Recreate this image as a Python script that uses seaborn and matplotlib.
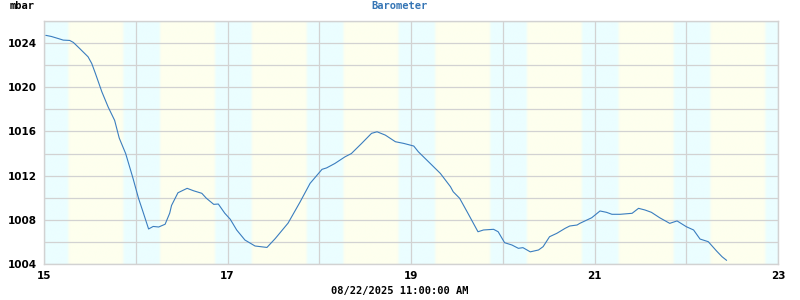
import numpy as np
import pandas as pd
import matplotlib
matplotlib.use("Agg")
import matplotlib.pyplot as plt
import seaborn as sns

# ---- data (day of month, pressure in mbar) ----
days = [15.02, 15.08, 15.16, 15.21, 15.28, 15.32, 15.39, 15.48, 15.52, 15.56,
        15.63, 15.70, 15.77, 15.82, 15.89, 15.97, 16.03, 16.08, 16.14, 16.19,
        16.25, 16.32, 16.37, 16.39, 16.46, 16.56, 16.63, 16.72, 16.77, 16.85,
        16.90, 16.97, 17.03, 17.10, 17.19, 17.30, 17.43, 17.52, 17.66, 17.79,
        17.90, 18.03, 18.08, 18.17, 18.28, 18.35, 18.46, 18.57, 18.63, 18.72,
        18.83, 18.92, 19.03, 19.08, 19.21, 19.32, 19.43, 19.46, 19.53, 19.62,
        19.73, 19.79, 19.90, 19.95, 20.02, 20.10, 20.17, 20.22, 20.30, 20.39,
        20.44, 20.51, 20.59, 20.68, 20.73, 20.81, 20.84, 20.97, 21.06, 21.13,
        21.19, 21.28, 21.41, 21.48, 21.55, 21.62, 21.71, 21.82, 21.90, 22.00,
        22.08, 22.15, 22.24, 22.33, 22.39, 22.44]
pressure = [1024.70, 1024.60, 1024.40, 1024.27, 1024.24, 1024.06, 1023.50, 1022.76, 1022.16, 1021.26,
            1019.60, 1018.20, 1017.00, 1015.40, 1014.00, 1011.76, 1009.95, 1008.70, 1007.17, 1007.40,
            1007.35, 1007.60, 1008.60, 1009.30, 1010.45, 1010.85, 1010.63, 1010.40, 1009.95, 1009.40,
            1009.43, 1008.60, 1008.05, 1007.08, 1006.17, 1005.63, 1005.50, 1006.30, 1007.70, 1009.60,
            1011.30, 1012.57, 1012.70, 1013.10, 1013.70, 1014.00, 1014.90, 1015.83, 1015.97, 1015.67,
            1015.07, 1014.92, 1014.68, 1014.16, 1013.10, 1012.20, 1011.00, 1010.54, 1009.95, 1008.60,
            1006.92, 1007.08, 1007.14, 1006.92, 1005.93, 1005.72, 1005.42, 1005.48, 1005.10, 1005.27,
            1005.57, 1006.47, 1006.78, 1007.23, 1007.44, 1007.53, 1007.68, 1008.19, 1008.80, 1008.68,
            1008.50, 1008.50, 1008.59, 1009.04, 1008.89, 1008.68, 1008.19, 1007.68, 1007.90, 1007.38,
            1007.08, 1006.26, 1006.02, 1005.18, 1004.66, 1004.33]

x_ticks = [15, 16, 17, 18, 19, 20, 21, 22, 23]
x_labels = ["15", "", "17", "", "19", "", "21", "", "23"]
y_ticks = [1004, 1006, 1008, 1010, 1012, 1014, 1016, 1018, 1020, 1022, 1024, 1026]
y_labels = ["1004", "", "1008", "", "1012", "", "1016", "", "1020", "", "1024", ""]

title = "Barometer"
unit = "mbar"
stamp = "08/22/2025 11:00:00 AM"

# day/night shading (fraction of day)
sunset_frac = 0.864
sunrise_frac = 0.264
ramp = 0.03
night_color = np.array([235, 254, 255]) / 255.0
day_color = np.array([254, 255, 238]) / 255.0

df = pd.DataFrame({"day": days, "pressure": pressure})

sns.set_style("white")
plt.rcParams["font.family"] = ["DejaVu Sans"]

fig = plt.figure(figsize=(8, 3), dpi=100)
ax = fig.add_axes([44 / 800, 36 / 300, (778 - 44) / 800, (264 - 21) / 300])

# background gradient
xs = np.linspace(15, 23, 3000)
frac = xs % 1.0
night = np.zeros_like(xs)
night = np.maximum(night, np.clip((frac - sunset_frac) / ramp + 0.5, 0, 1))
night = np.maximum(night, np.clip((sunrise_frac - frac) / ramp + 0.5, 0, 1))
cols = night[:, None] * night_color + (1 - night[:, None]) * day_color
img = cols[None, :, :]
ax.imshow(img, extent=[15, 23, 1004, 1026], aspect="auto", zorder=0,
          interpolation="bilinear")

sns.lineplot(data=df, x="day", y="pressure", ax=ax, color="#3a7dbf",
             linewidth=0.8, zorder=3)

ax.set_xlim(15, 23)
ax.set_ylim(1004, 1026)
ax.set_xticks(x_ticks)
ax.set_xticklabels(x_labels)
ax.set_yticks(y_ticks)
ax.set_yticklabels(y_labels)
ax.grid(True, color="#d2d2d2", linewidth=0.9)
ax.set_axisbelow(True)
for gl in ax.get_xgridlines() + ax.get_ygridlines():
    gl.set_zorder(1)
for s in ax.spines.values():
    s.set_color("#d2d2d2")
    s.set_linewidth(1.0)
ax.tick_params(length=0, pad=5, labelsize=7.5, labelcolor="black")
for lab in ax.get_xticklabels() + ax.get_yticklabels():
    lab.set_fontweight("bold")
ax.set_xlabel("")
ax.set_ylabel("")

fig.text(400 / 800, 1 - 6 / 300, title, ha="center", va="center",
         family="DejaVu Sans Mono", fontweight="bold", fontsize=7.5, color="#3575b5")
fig.text(10 / 800, 1 - 6 / 300, unit, ha="left", va="center",
         family="DejaVu Sans Mono", fontweight="bold", fontsize=7.5, color="black")
fig.text(400 / 800, 1 - 291 / 300, stamp, ha="center", va="center",
         family="DejaVu Sans Mono", fontweight="bold", fontsize=7.5, color="black")

fig.savefig("out.png", dpi=100)
